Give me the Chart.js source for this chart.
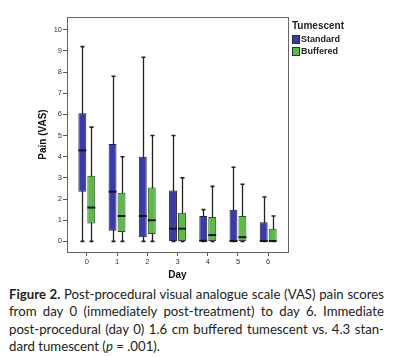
<!DOCTYPE html>
<html>
<head>
<meta charset="utf-8">
<script src="https://cdn.jsdelivr.net/npm/chart.js@4/dist/chart.umd.min.js"></script>
<style>
  html, body { margin: 0; padding: 0; background: #fff; }
  body { width: 400px; height: 357px; position: relative; overflow: hidden; }
  #wrap { position: absolute; left: 0; top: 0; width: 400px; height: 285px; }
  #legend { position: absolute; left: 292px; top: 19px; font-family: "Liberation Sans", Arial, sans-serif; color: #222; }
  #legend .ttl { font-size: 10px; font-weight: bold; line-height: 13px; margin-bottom: 2px; }
  #legend .item { font-size: 9px; font-weight: bold; line-height: 11.5px; display: flex; align-items: center; }
  #legend .sw { width: 6px; height: 7px; margin-right: 1px; border: 0.5px solid #333; }
  #caption { position: absolute; left: 9px; top: 286px; width: 375px; font-family: Lato, "Open Sans", sans-serif; font-size: 13.2px; line-height: 17.3px; color: #222; }
  #caption .ln { text-align: justify; text-align-last: justify; white-space: nowrap; }
  #caption .ln.last { text-align-last: left; }
</style>
</head>
<body>
<div id="wrap"><canvas id="c"></canvas></div>
<div id="legend"></div>
<div id="caption">
  <div class="ln"><b>Figure 2.</b> Post-procedural visual analogue scale (VAS) pain scores</div>
  <div class="ln">from day 0 (immediately post-treatment) to day 6. Immediate</div>
  <div class="ln">post-procedural (day 0) 1.6 cm buffered tumescent vs. 4.3 stan-</div>
  <div class="ln last">dard tumescent (<i>p</i> = .001).</div>
</div>
<script>
// ---- data ----
const days = ['0', '1', '2', '3', '4', '5', '6'];
const yTicks = [0, 1, 2, 3, 4, 5, 6, 7, 8, 9, 10];
const seriesNames = ['Standard', 'Buffered'];
const legendTitle = 'Tumescent';

const stdMin    = [0, 0, 0, 0, 0, 0, 0];
const stdQ1     = [2.35, 0.5, 0.2, 0, 0, 0, 0];
const stdMedian = [4.3, 2.35, 1.2, 0.6, 0.03, 0.02, 0.02];
const stdQ3     = [6.05, 4.6, 4.0, 2.4, 1.2, 1.5, 0.9];
const stdMax    = [9.2, 7.8, 8.7, 5.0, 1.5, 3.5, 2.1];

const bufMin    = [0, 0, 0, 0, 0, 0, 0];
const bufQ1     = [0.85, 0.45, 0.35, 0, 0, 0, 0];
const bufMedian = [1.6, 1.2, 1.0, 0.6, 0.3, 0.2, 0.02];
const bufQ3     = [3.1, 2.3, 2.55, 1.35, 1.15, 1.2, 0.6];
const bufMax    = [5.4, 4.0, 5.0, 3.0, 2.6, 2.7, 1.2];

const colors = ['#3b3ba8', '#5cb94a'];
const borders = ['#23234f', '#2e4f24'];

const stats = [
  {min: stdMin, q1: stdQ1, med: stdMedian, q3: stdQ3, max: stdMax},
  {min: bufMin, q1: bufQ1, med: bufMedian, q3: bufQ3, max: bufMax}
];

// legend (HTML text)
const lg = document.getElementById('legend');
lg.innerHTML = '<div class="ttl">' + legendTitle + '</div>' +
  seriesNames.map((n, i) => '<div class="item"><span class="sw" style="background:' + colors[i] + '"></span>' + n + '</div>').join('');

const whiskerPlugin = {
  id: 'whiskers',
  beforeDatasetsDraw(chart) {
    const ctx = chart.ctx, y = chart.scales.y;
    ctx.save();
    chart.data.datasets.forEach((ds, di) => {
      const meta = chart.getDatasetMeta(di);
      const s = stats[di];
      meta.data.forEach((bar, i) => {
        const x = Math.round(bar.x) + 0.5;
        const yMin = y.getPixelForValue(s.min[i]);
        const yMax = y.getPixelForValue(s.max[i]);
        ctx.strokeStyle = '#222';
        ctx.lineWidth = 1.3;
        ctx.beginPath();
        ctx.moveTo(x, yMin); ctx.lineTo(x, yMax);
        ctx.stroke();
        ctx.lineWidth = 1.6;
        ctx.beginPath();
        ctx.moveTo(x - 2, yMax); ctx.lineTo(x + 2, yMax);
        ctx.moveTo(x - 2, yMin); ctx.lineTo(x + 2, yMin);
        ctx.stroke();
      });
    });
    ctx.restore();
  },
  afterDatasetsDraw(chart) {
    const ctx = chart.ctx, y = chart.scales.y;
    ctx.save();
    chart.data.datasets.forEach((ds, di) => {
      const meta = chart.getDatasetMeta(di);
      const s = stats[di];
      meta.data.forEach((bar, i) => {
        const ym = y.getPixelForValue(s.med[i]);
        ctx.strokeStyle = '#151525';
        ctx.lineWidth = 2;
        ctx.beginPath();
        ctx.moveTo(bar.x - bar.width / 2, ym); ctx.lineTo(bar.x + bar.width / 2, ym);
        ctx.stroke();
      });
    });
    // frame
    const a = chart.chartArea;
    ctx.strokeStyle = '#666';
    ctx.lineWidth = 1;
    ctx.strokeRect(Math.round(a.left) + 0.5, Math.round(a.top) + 0.5, Math.round(a.right - a.left), Math.round(a.bottom - a.top));
    ctx.restore();
  }
};

const datasets = stats.map((s, di) => ({
  label: seriesNames[di],
  data: days.map((d, i) => ({x: i, y: [s.q1[i], s.q3[i]]})),
  backgroundColor: colors[di],
  borderColor: borders[di],
  borderWidth: 1,
  borderSkipped: false,
  categoryPercentage: 0.594,
  barPercentage: 0.88
}));

new Chart(document.getElementById('c'), {
  type: 'bar',
  data: { datasets },
  options: {
    responsive: true,
    maintainAspectRatio: false,
    animation: false,
    layout: { padding: { left: 33, top: 17, right: 112, bottom: 0 } },
    plugins: { legend: { display: false }, tooltip: { enabled: false } },
    scales: {
      x: {
        type: 'linear',
        min: -0.655,
        max: 6.655,
        offset: false,
        grid: { display: true, offset: false, drawOnChartArea: false, drawTicks: true, tickLength: 4, tickColor: '#555', tickWidth: 1 },
        border: { display: false },
        afterBuildTicks: (sc) => { sc.ticks = days.map((d, i) => ({value: i})); },
        afterFit: (sc) => { sc.height = 33; },
        ticks: {
          autoSkip: false, maxRotation: 0, padding: 1,
          color: '#333', font: { family: 'Liberation Sans', size: 7.5 },
          callback: (v) => days[v]
        },
        title: { display: true, text: 'Day', color: '#111', font: { family: 'Liberation Sans', size: 10, weight: 'bold' }, padding: { top: 4, bottom: 4 } }
      },
      y: {
        min: -0.5,
        max: 10.6,
        grid: { display: true, drawOnChartArea: false, drawTicks: true, tickLength: 4, tickColor: '#555', tickWidth: 1 },
        border: { display: false },
        afterBuildTicks: (sc) => { sc.ticks = yTicks.map(v => ({value: v})); },
        afterFit: (sc) => { sc.width = 34; },
        ticks: {
          padding: 1,
          color: '#333', font: { family: 'Liberation Sans', size: 7.5 },
          callback: (v) => String(v)
        },
        title: { display: true, text: 'Pain (VAS)', color: '#111', font: { family: 'Liberation Sans', size: 10, weight: 'bold' }, padding: { top: 4, bottom: 4 } }
      }
    }
  },
  plugins: [whiskerPlugin]
});
</script>
</body>
</html>
